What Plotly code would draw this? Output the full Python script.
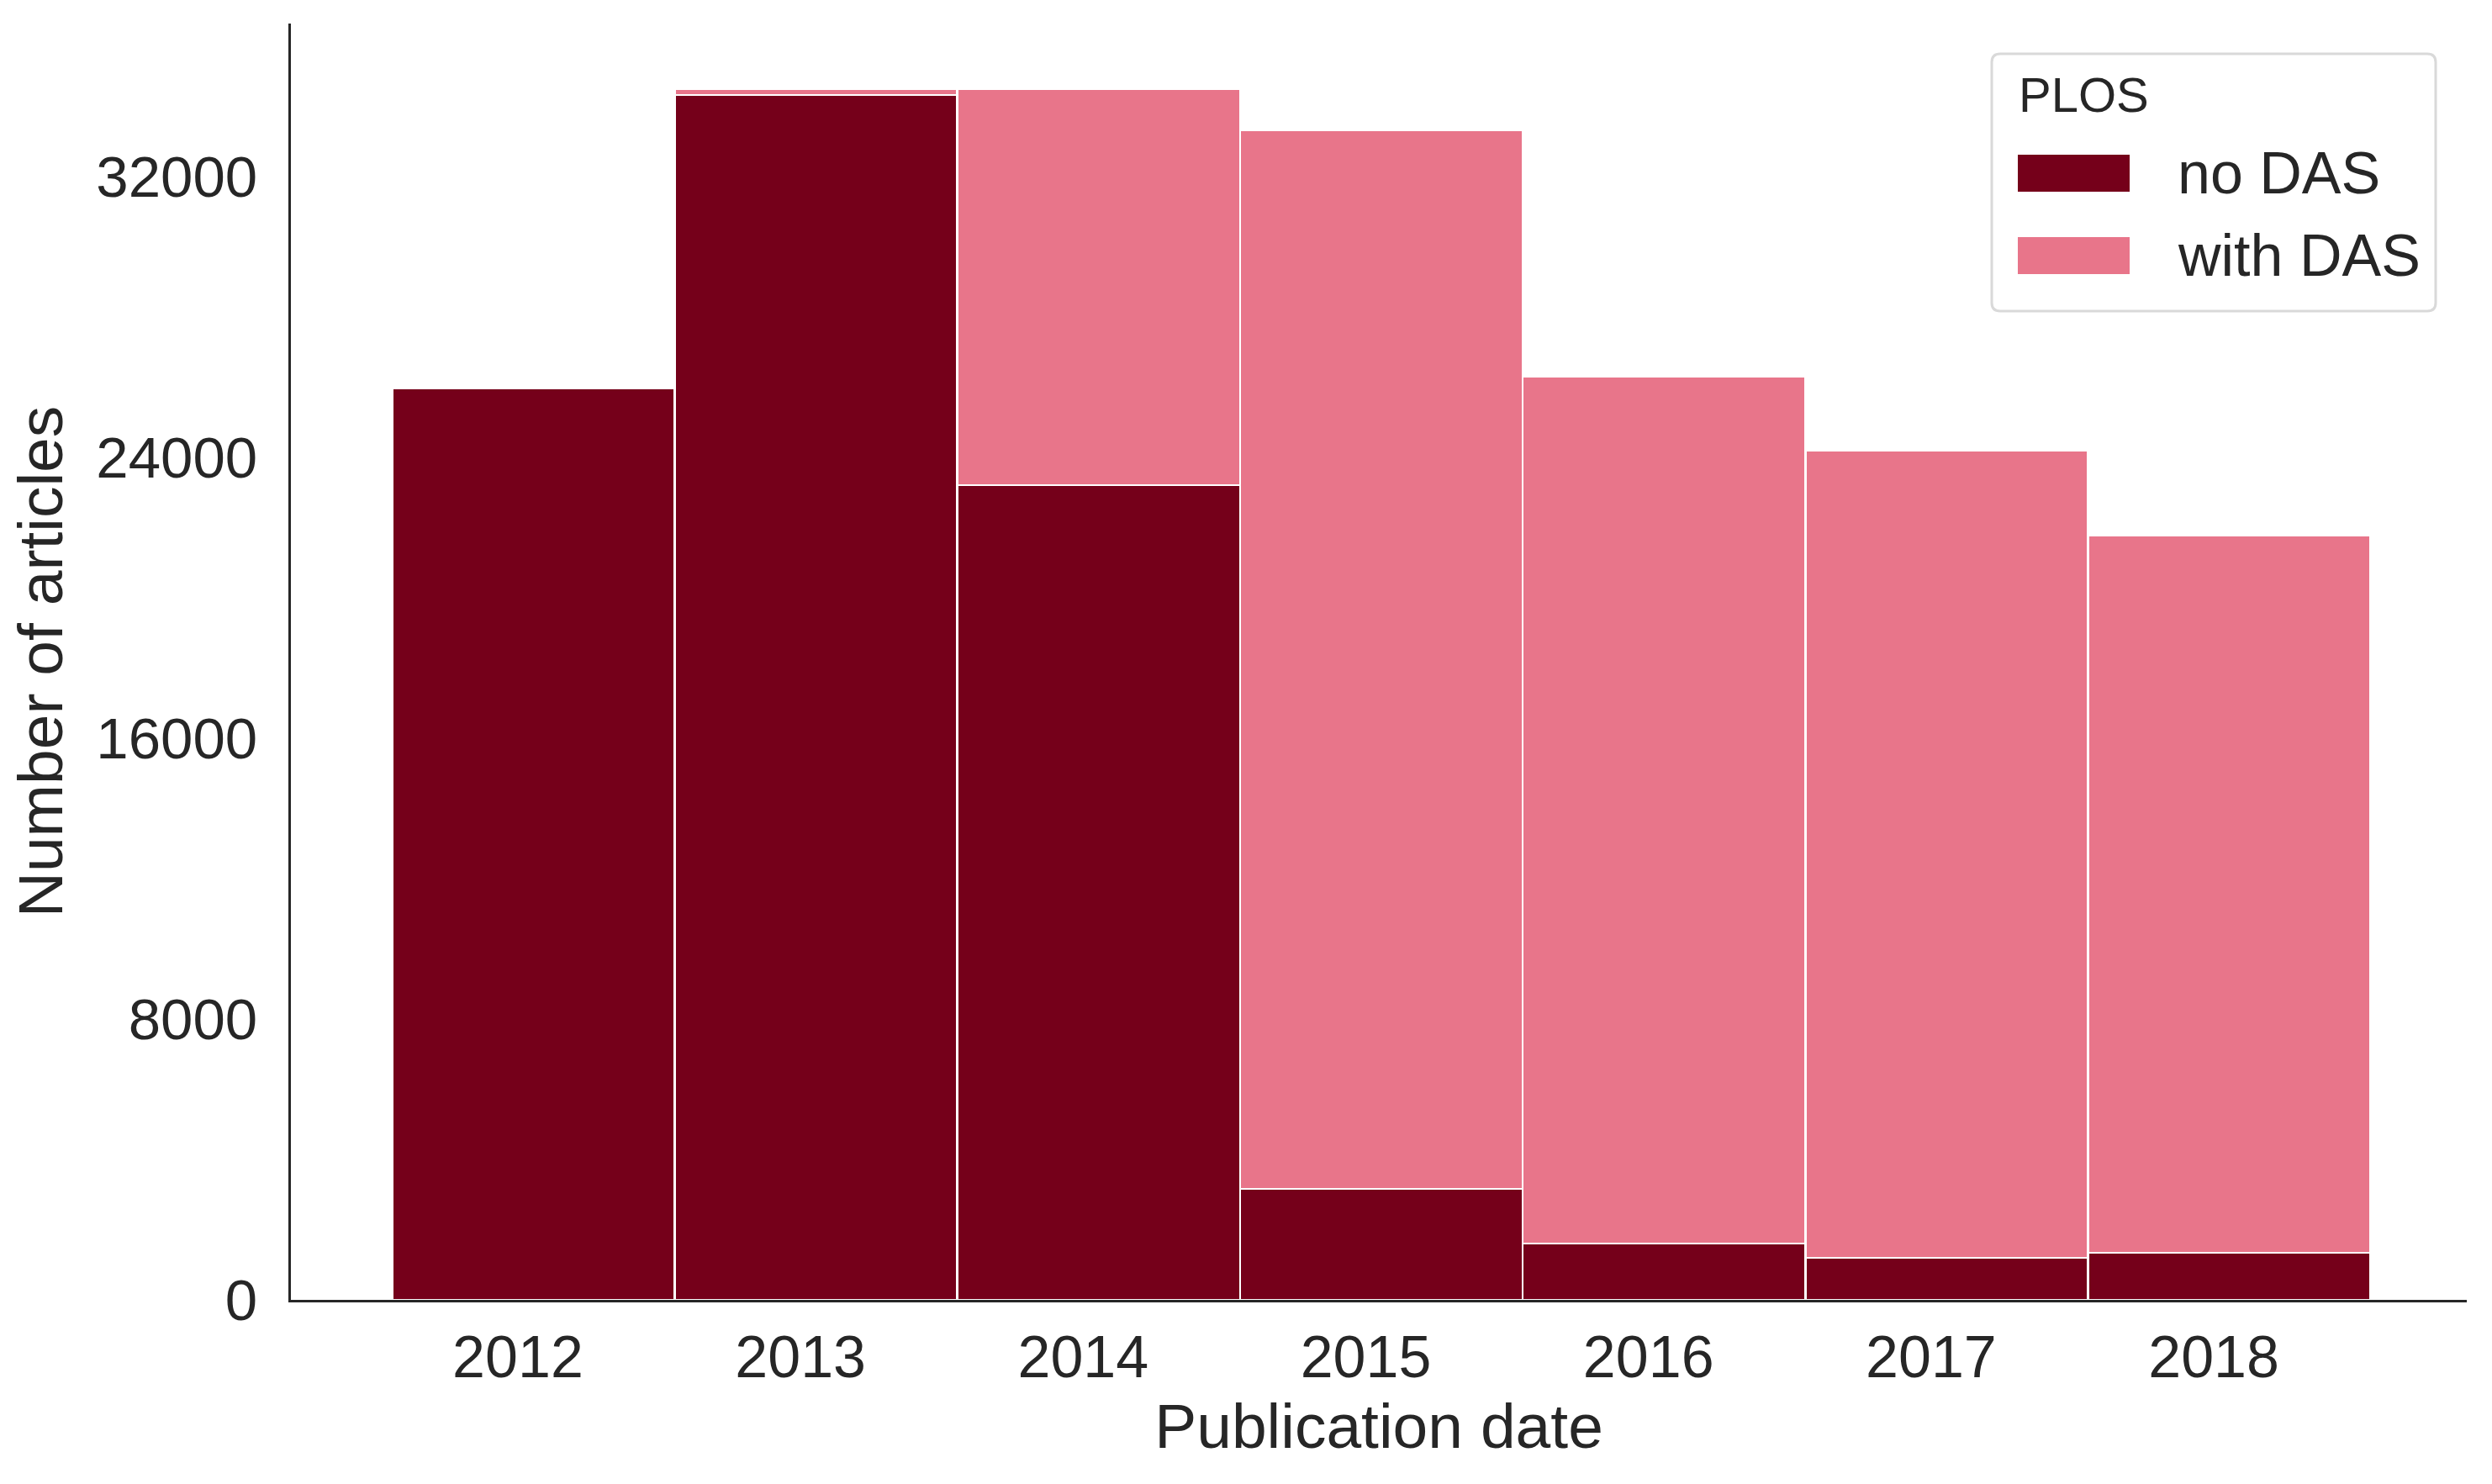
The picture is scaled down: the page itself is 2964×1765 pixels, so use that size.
import plotly.graph_objects as go

years = [2012, 2013, 2014, 2015, 2016, 2017, 2018]
no_das = [25960, 34330, 23210, 3160, 1600, 1200, 1340]
with_das = [0, 150, 11290, 30160, 24690, 22990, 20430]
y_ticks = [0, 8000, 16000, 24000, 32000]
legend_title = "PLOS"
series_names = ["no DAS", "with DAS"]

DARK = "#75001A"
PINK = "#E8758A"
TXT = "#262626"
FONT = "Liberation Sans, Arial, sans-serif"
colors = [DARK, PINK]

fig = go.Figure()
for name, vals, col in zip(series_names, [no_das, with_das], colors):
    fig.add_trace(go.Bar(
        x=years, y=vals, name=name, showlegend=False,
        width=0.998, offset=-0.444,
        marker=dict(color=col, line=dict(color="white", width=2.5)),
    ))

W, H = 2964, 1765
L, R, T, B = 346, 30, 28, 219
PW, PH = W - L - R, H - T - B


def px(x):
    return (x - L) / PW


def py(y):
    return (H - B - y) / PH


# legend (drawn in pixel-like positions converted to paper coords)
bx0, bx1, by0, by1, rad = 2369, 2897, 64, 370, 10
path = (
    f"M {px(bx0+rad)},{py(by0)} L {px(bx1-rad)},{py(by0)} "
    f"Q {px(bx1)},{py(by0)} {px(bx1)},{py(by0+rad)} "
    f"L {px(bx1)},{py(by1-rad)} Q {px(bx1)},{py(by1)} {px(bx1-rad)},{py(by1)} "
    f"L {px(bx0+rad)},{py(by1)} Q {px(bx0)},{py(by1)} {px(bx0)},{py(by1-rad)} "
    f"L {px(bx0)},{py(by0+rad)} Q {px(bx0)},{py(by0)} {px(bx0+rad)},{py(by0)} Z"
)
shapes = [dict(type="path", path=path, xref="paper", yref="paper",
               line=dict(color="#d9d9d9", width=3), fillcolor="white", layer="above")]
annotations = [dict(text=legend_title, x=px(2399), y=py(112), xref="paper", yref="paper",
                    xanchor="left", yanchor="middle", showarrow=False,
                    font=dict(size=58, color=TXT, family=FONT))]
sw_rows = [(184, 228), (282, 326)]
for (y0, y1), name, col in zip(sw_rows, series_names, colors):
    shapes.append(dict(type="rect", xref="paper", yref="paper",
                       x0=px(2400), x1=px(2533), y0=py(y1), y1=py(y0),
                       fillcolor=col, line=dict(width=0), layer="above"))
    annotations.append(dict(text=name, x=px(2588), y=py((y0 + y1) / 2), xref="paper", yref="paper",
                            xanchor="left", yanchor="middle", showarrow=False,
                            font=dict(size=70, color=TXT, family=FONT)))

fig.update_layout(
    width=W, height=H,
    margin=dict(l=L, r=R, t=T, b=B, pad=0),
    barmode="stack", bargap=0,
    paper_bgcolor="white", plot_bgcolor="white",
    font=dict(family=FONT, color=TXT, size=70),
    showlegend=False,
    shapes=shapes, annotations=annotations,
)
fig.update_xaxes(
    range=[2011.197, 2018.895], automargin=False,
    tickvals=years, ticktext=[str(y) for y in years],
    showgrid=False, zeroline=False,
    showline=True, linecolor=TXT, linewidth=3,
    ticks="outside", ticklen=5, tickcolor="rgba(0,0,0,0)",
    tickfont=dict(size=70, color=TXT),
    title=dict(text="Publication date", font=dict(size=75, color=TXT), standoff=18),
)
fig.update_yaxes(
    range=[0, 36360], automargin=False,
    tickvals=y_ticks, ticktext=[str(v) for v in y_ticks],
    showgrid=False, zeroline=False,
    showline=True, linecolor=TXT, linewidth=3,
    ticks="outside", ticklen=23, tickcolor="rgba(0,0,0,0)",
    tickfont=dict(size=69, color=TXT),
    title=dict(text="Number of articles", font=dict(size=75, color=TXT), standoff=16),
)

fig.write_html("out.html", config={"displayModeBar": False},
               post_script="document.body.style.margin='0px';")
